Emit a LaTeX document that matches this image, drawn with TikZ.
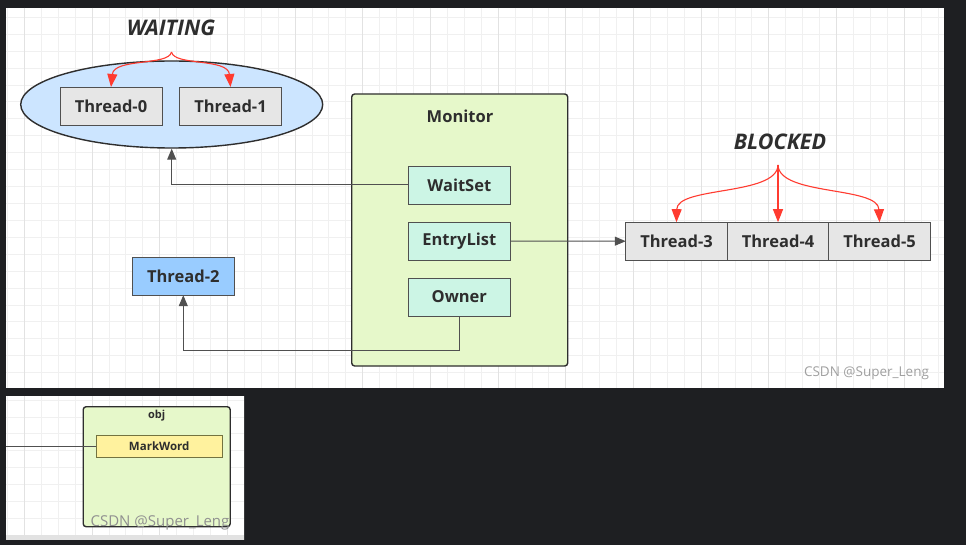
\documentclass[tikz,border=0pt]{standalone}
\usepackage{fontspec}
\setmainfont{Open Sans}
\usetikzlibrary{positioning,arrows.meta,shapes.geometric}
\definecolor{bgdark}{HTML}{1E1F22}
\definecolor{gridminor}{HTML}{F0F0F0}
\definecolor{gridmajor}{HTML}{E2E2E2}
\definecolor{textdark}{HTML}{2E2E2E}
\definecolor{linegray}{HTML}{505050}
\definecolor{threadgray}{HTML}{E6E6E6}
\definecolor{waitblue}{HTML}{CCE5FF}
\definecolor{ownerblue}{HTML}{99CCFF}
\definecolor{monitorgreen}{HTML}{E6F8CA}
\definecolor{slotmint}{HTML}{CCF5E5}
\definecolor{markyellow}{HTML}{FFF29E}
\definecolor{arrowred}{HTML}{FF3B30}
\definecolor{markgray}{HTML}{A0A0A0}
\tikzset{
  gridline/.style={gridminor, line width=0.8pt},
  gridbold/.style={gridmajor, line width=0.8pt},
  thread/.style={draw=linegray, fill=threadgray, line width=0.9pt, minimum width=102pt,
    minimum height=38pt, inner sep=0pt, outer sep=0pt, text=textdark,
    font=\bfseries\fontsize{16.5}{20}\selectfont},
  slot/.style={thread, fill=slotmint},
  state/.style={text=textdark, font=\bfseries\itshape\fontsize{21.5}{26}\selectfont},
  title/.style={text=textdark, font=\bfseries\fontsize{16.5}{20}\selectfont},
  frame/.style={draw=textdark, fill=monitorgreen, line width=1.4pt, rounded corners=3pt, inner sep=0pt},
  conn/.style={draw=linegray, line width=1pt, -{Triangle[length=11pt,width=9pt]}},
  fork/.style={draw=arrowred, line width=1.1pt, -{Triangle[length=13pt,width=10pt]}},
  watermark/.style={text=markgray, font=\fontsize{13.5}{16}\selectfont}
}
\begin{document}
\begin{tikzpicture}[x=1pt,y=-1pt]
\useasboundingbox (0,0) rectangle (966,545);
\fill[bgdark] (0,0) rectangle (966,545);
% main panel with grid
\fill[white] (6,8) rectangle (944,388);
\begin{scope}
  \clip (6,8) rectangle (944,388);
  \foreach \i in {-1,...,56} \draw[gridline] ({24.3+16.92*\i},8) -- ++(0,380);
  \foreach \j in {-1,...,22} \draw[gridline] (6,{17.3+16.92*\j}) -- ++(938,0);
  \foreach \i in {0,...,13} \draw[gridbold] ({24.3+67.68*\i},8) -- ++(0,380);
\end{scope}
% lower panel with grid
\fill[white] (6,396) rectangle (244,540);
\begin{scope}
  \clip (6,396) rectangle (244,540);
  \foreach \i in {-1,...,14} \draw[gridline] ({24.3+16.92*\i},396) -- ++(0,144);
  \foreach \j in {0,...,9} \draw[gridline] (6,{400+16.92*\j}) -- ++(238,0);
  \foreach \i in {0,...,3} \draw[gridbold] ({24.3+67.68*\i},396) -- ++(0,144);
\end{scope}
\fill[gridmajor] (6,535) rectangle (244,540);

% waiting set
\node[ellipse, draw=textdark, fill=waitblue, line width=1.4pt, minimum width=302pt,
  minimum height=87pt, inner sep=0pt] (WaitArea) at (171.7,104.5) {};
\node[thread] (Thread0) at (111,106) {Thread-0};
\node[thread] (Thread1) at (230.5,106) {Thread-1};
\node[state] (Waiting) at (171,28) {WAITING};
\coordinate (WaitFork) at (171.5,52);
\draw[fork] (WaitFork) .. controls (169,66) and (114,58) .. (Thread0.north);
\draw[fork] (WaitFork) .. controls (174,66) and (228,58) .. (Thread1.north);

% monitor
\node[frame, minimum width=216pt, minimum height=272pt] (Monitor) at (459.7,230) {};
\node[title] (MonitorTitle) at (460,116) {Monitor};
\node[slot] (WaitSet) at (459.3,185) {WaitSet};
\node[slot] (EntryList) [below=18pt of WaitSet] {EntryList};
\node[slot] (Owner) [below=18pt of EntryList] {Owner};

% owner thread
\node[thread, fill=ownerblue] (Thread2) at (183.3,276.2) {Thread-2};

% blocked list
\node[thread, minimum width=101.5pt] (Thread3) at (676.5,241.2) {Thread-3};
\node[thread, minimum width=101.5pt] (Thread4) [right=0pt of Thread3] {Thread-4};
\node[thread, minimum width=101.5pt] (Thread5) [right=0pt of Thread4] {Thread-5};
\node[state] (Blocked) at (780,141.5) {BLOCKED};
\coordinate (BlockFork) at (778,165);
\draw[fork] (BlockFork) .. controls (777,196) and (677,186) .. (Thread3.north);
\draw[fork] (BlockFork) -- (Thread4.north);
\draw[fork] (BlockFork) .. controls (779,196) and (878,186) .. (Thread5.north);

% connectors
\draw[conn] (WaitSet.west) -| (WaitArea.south);
\draw[conn] (EntryList.east) -- (Thread3.west);
\draw[conn] (Owner.south) -- ++(0,34) -| (Thread2.south);

\node[watermark] (Mark) at (866.5,373) {CSDN @Super\_Leng};

% object header
\node[frame, minimum width=147pt, minimum height=120pt] (Obj) at (156.7,466.7) {};
\node[title, font=\bfseries\fontsize{11}{13}\selectfont] (ObjTitle) at (156.7,416) {obj};
\node[thread, fill=markyellow, draw=linegray!80!yellow, minimum width=126pt, minimum height=21.5pt,
  font=\bfseries\fontsize{11.5}{14}\selectfont] (MarkWord) at (159.2,446.5) {MarkWord};
\coordinate (MarkIn) at (6,446.5);
\draw[linegray, line width=1pt] (MarkIn) -- (MarkWord.west);
\node[watermark, text=markgray!90!black, font=\fontsize{15}{18}\selectfont] (MarkLow) at (160,523) {CSDN @Super\_Leng};
\end{tikzpicture}
\end{document}
